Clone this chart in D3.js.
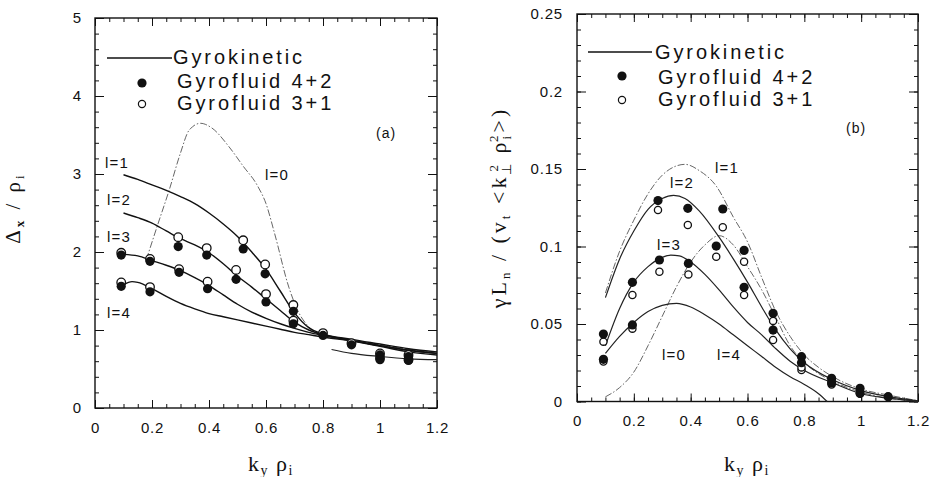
<!DOCTYPE html>
<html><head><meta charset="utf-8">
<script src="https://cdn.jsdelivr.net/npm/d3@7"></script>
<style>body{margin:0;background:#fff}svg{display:block}</style>
</head><body>
<svg id="c" width="931" height="477"></svg>
<script>
// ---------------- DATA ----------------
// Panel (a): Delta_x / rho_i vs ky rho_i (gyrokinetic curves)
const aL1 = [[0.1,2.99],[0.15,2.93],[0.2,2.86],[0.25,2.79],[0.3,2.71],[0.35,2.62],[0.4,2.5],[0.45,2.36],[0.5,2.2],[0.55,2.0],[0.6,1.78],[0.65,1.5],[0.7,1.22],[0.75,1.03],[0.8,0.95],[0.9,0.88],[1.0,0.82],[1.1,0.76],[1.2,0.72]];
const aL2 = [[0.1,2.5],[0.15,2.44],[0.2,2.37],[0.25,2.27],[0.3,2.17],[0.35,2.09],[0.4,1.99],[0.45,1.85],[0.5,1.69],[0.55,1.55],[0.6,1.4],[0.65,1.25],[0.7,1.1],[0.75,1.0],[0.8,0.94],[0.9,0.87],[1.0,0.8],[1.1,0.74],[1.2,0.7]];
const aL3 = [[0.1,1.97],[0.15,1.95],[0.2,1.89],[0.25,1.83],[0.3,1.76],[0.35,1.67],[0.4,1.57],[0.45,1.45],[0.5,1.33],[0.55,1.23],[0.6,1.15],[0.65,1.08],[0.7,1.02],[0.75,0.97],[0.8,0.93],[0.9,0.86],[1.0,0.79],[1.1,0.72],[1.2,0.68]];
const aL4 = [[0.1,1.58],[0.13,1.62],[0.15,1.61],[0.2,1.53],[0.25,1.43],[0.3,1.34],[0.35,1.27],[0.4,1.21],[0.45,1.17],[0.5,1.13],[0.55,1.09],[0.6,1.05],[0.65,1.01],[0.7,0.97],[0.75,0.94],[0.8,0.91],[0.9,0.86],[1.0,0.8],[1.1,0.74],[1.2,0.7]];
const aL0 = [[0.18,1.9],[0.22,2.35],[0.26,2.79],[0.3,3.27],[0.33,3.56],[0.37,3.65],[0.41,3.59],[0.47,3.35],[0.52,3.1],[0.57,2.85],[0.6,2.62],[0.63,2.24],[0.68,1.55],[0.71,1.26],[0.75,1.04],[0.79,0.94],[0.85,0.9],[0.95,0.84],[1.05,0.78],[1.2,0.7]];
const aL0b = [[0.83,0.75],[0.9,0.7],[1.0,0.66],[1.1,0.63],[1.2,0.62]];
// gyrofluid points: [ky, 4+2 (filled), 3+1 (open)]
const aDots = [[0.092,1.96,1.99],[0.092,1.56,1.61],[0.193,1.88,1.91],[0.193,1.49,1.55],[0.292,2.07,2.19],[0.295,1.74,1.78],[0.392,1.96,2.05],[0.395,1.53,1.62],[0.495,1.65,1.77],[0.52,2.04,2.15],[0.597,1.72,1.84],[0.6,1.36,1.46],[0.696,1.24,1.32],[0.696,1.08,1.12],[0.8,0.93,0.96],[0.9,0.81,0.83],[1.0,0.68,0.7],[1.0,0.62,0.64],[1.1,0.66,0.68],[1.1,0.61,0.62]];

// Panel (b): gamma L_n / (v_t <k_perp^2 rho_i^2>) vs ky rho_i
const bL1 = [[0.1,0.07],[0.15,0.097],[0.2,0.117],[0.25,0.134],[0.3,0.146],[0.35,0.152],[0.38,0.153],[0.43,0.149],[0.49,0.139],[0.55,0.119],[0.6,0.103],[0.65,0.08],[0.7,0.058],[0.75,0.042],[0.8,0.03],[0.85,0.022],[0.9,0.016],[1.0,0.008],[1.1,0.004],[1.2,0.0005]];
const bL2 = [[0.1,0.067],[0.15,0.092],[0.2,0.11],[0.25,0.124],[0.3,0.131],[0.34,0.133],[0.38,0.131],[0.43,0.123],[0.5,0.106],[0.55,0.092],[0.6,0.077],[0.65,0.061],[0.7,0.046],[0.75,0.034],[0.8,0.025],[0.9,0.014],[1.0,0.007],[1.1,0.003],[1.2,0.0005]];
const bL3 = [[0.1,0.036],[0.15,0.06],[0.2,0.077],[0.25,0.087],[0.3,0.093],[0.33,0.0945],[0.36,0.094],[0.4,0.09],[0.45,0.082],[0.5,0.072],[0.55,0.061],[0.6,0.051],[0.65,0.043],[0.7,0.034],[0.75,0.026],[0.8,0.02],[0.9,0.012],[1.0,0.005],[1.1,0.002],[1.2,0.0003]];
const bL4 = [[0.1,0.031],[0.15,0.042],[0.2,0.051],[0.25,0.058],[0.3,0.062],[0.35,0.0633],[0.4,0.061],[0.45,0.056],[0.5,0.05],[0.55,0.043],[0.6,0.036],[0.65,0.029],[0.7,0.022],[0.75,0.016],[0.8,0.011],[0.85,0.005],[0.88,0.0]];
const bL0 = [[0.1,0.003],[0.15,0.009],[0.2,0.019],[0.25,0.036],[0.3,0.055],[0.35,0.074],[0.4,0.09],[0.45,0.101],[0.5,0.107],[0.55,0.101],[0.6,0.087],[0.65,0.072],[0.7,0.054],[0.75,0.036],[0.8,0.025],[0.85,0.018],[0.9,0.013],[1.0,0.006],[1.1,0.002],[1.2,0.0003]];
const bDots = [[0.093,0.0435,0.0386],[0.093,0.0272,0.0258],[0.195,0.0769,0.0687],[0.195,0.0494,0.047],[0.285,0.1296,0.1235],[0.29,0.0913,0.0837],[0.39,0.1246,0.1139],[0.392,0.0891,0.082],[0.49,0.1003,0.0934],[0.513,0.1242,0.1124],[0.588,0.0975,0.0902],[0.588,0.0737,0.0687],[0.69,0.0569,0.052],[0.69,0.0461,0.0397],[0.79,0.0289,0.0203],[0.79,0.025,0.022],[0.896,0.015,0.013],[0.896,0.012,0.011],[0.996,0.0085,0.007],[0.996,0.0053,0.005],[1.095,0.0031,0.003]];

const xTicks = [0,0.2,0.4,0.6,0.8,1,1.2];
const xTickLabels = ["0","0.2","0.4","0.6","0.8","1","1.2"];
const aYTicks = [0,1,2,3,4,5];
const bYTicks = [0,0.05,0.1,0.15,0.2,0.25];
const bYTickLabels = ["0","0.05","0.1","0.15","0.2","0.25"];
const legendLabels = ["Gyrokinetic","Gyrofluid 4+2","Gyrofluid 3+1"];

// ---------------- DRAW ----------------
const svg = d3.select("#c");
const SANS = "'Liberation Sans', Arial, sans-serif";
const SERIF = "'Liberation Serif', 'Times New Roman', serif";

function range(a,b,s){const r=[];for(let v=a;v<=b+1e-9;v+=s)r.push(+v.toFixed(4));return r;}

function panel(opt){
  const x = d3.scaleLinear().domain([0,1.2]).range([opt.x0,opt.x1]);
  const y = d3.scaleLinear().domain(opt.yDom).range([opt.y0,opt.y1]);
  const g = svg.append("g");
  const tf = (a)=>a.selectAll("path.domain").remove();
  const xm = range(0,1.2,0.05), ym = range(opt.yDom[0],opt.yDom[1],opt.yMinor);
  g.append("g").attr("transform",`translate(0,${opt.y0})`).call(d3.axisBottom(x).tickValues(xm).tickSize(-4).tickFormat("")).call(tf);
  g.append("g").attr("transform",`translate(0,${opt.y1})`).call(d3.axisTop(x).tickValues(xm).tickSize(-4).tickFormat("")).call(tf);
  g.append("g").attr("transform",`translate(${opt.x0},0)`).call(d3.axisLeft(y).tickValues(ym).tickSize(-4).tickFormat("")).call(tf);
  g.append("g").attr("transform",`translate(${opt.x1},0)`).call(d3.axisRight(y).tickValues(ym).tickSize(-4).tickFormat("")).call(tf);
  g.append("g").attr("transform",`translate(0,${opt.y0})`)
    .call(d3.axisBottom(x).tickValues(xTicks).tickSize(-8).tickPadding(14).tickFormat((d,i)=>xTickLabels[i])).call(tf);
  g.append("g").attr("transform",`translate(0,${opt.y1})`).call(d3.axisTop(x).tickValues(xTicks).tickSize(-8).tickFormat("")).call(tf);
  g.append("g").attr("transform",`translate(${opt.x0},0)`)
    .call(d3.axisLeft(y).tickValues(opt.yTicks).tickSize(-9).tickPadding(opt.yPad).tickFormat((d,i)=>opt.yLabels[i])).call(tf);
  g.append("g").attr("transform",`translate(${opt.x1},0)`).call(d3.axisRight(y).tickValues(opt.yTicks).tickSize(-9).tickFormat("")).call(tf);
  g.selectAll(".tick line").attr("stroke","#111").attr("stroke-width",1);
  g.selectAll(".tick text").attr("font-family",SANS).attr("font-size",15).attr("fill","#111").attr("letter-spacing",0.8);
  g.append("rect").attr("x",opt.x0).attr("y",opt.y1).attr("width",opt.x1-opt.x0).attr("height",opt.y0-opt.y1)
    .attr("fill","none").attr("stroke","#111").attr("stroke-width",1.4);
  const line = d3.line().x(d=>x(d[0])).y(d=>y(d[1])).curve(d3.curveMonotoneX);
  opt.curves.forEach(c=>{
    g.append("path").attr("d",line(c.data)).attr("fill","none")
      .attr("stroke",c.color).attr("stroke-width",c.w).attr("stroke-dasharray",c.dash||null);
  });
  g.selectAll("circle.o").data(opt.dots).join("circle").attr("class","o")
    .attr("cx",d=>x(d[0])).attr("cy",d=>y(d[2])).attr("r",opt.rOpen)
    .attr("fill","#fff").attr("stroke","#111").attr("stroke-width",1.3);
  g.selectAll("circle.f").data(opt.dots).join("circle").attr("class","f")
    .attr("cx",d=>x(d[0])).attr("cy",d=>y(d[1])).attr("r",4.6).attr("fill","#111");
  opt.labels.forEach(l=>{
    g.append("text").attr("x",l[1]).attr("y",l[2]).attr("font-family",SANS).attr("font-size",15)
      .attr("letter-spacing",1.2).attr("fill","#111").text(l[0]);
  });
  g.append("text").attr("x",opt.tag[1]).attr("y",opt.tag[2]).attr("font-family",SANS).attr("font-size",14)
    .attr("letter-spacing",1).attr("fill","#111").text(opt.tag[0]);
  const L = opt.legend;
  g.append("line").attr("x1",L.lx0).attr("x2",L.lx1).attr("y1",L.ly).attr("y2",L.ly).attr("stroke","#111").attr("stroke-width",1.3);
  g.append("circle").attr("cx",L.dx).attr("cy",L.fy).attr("r",4.6).attr("fill","#111");
  g.append("circle").attr("cx",L.dx).attr("cy",L.oy).attr("r",3.6).attr("fill","#fff").attr("stroke","#111").attr("stroke-width",1.2);
  legendLabels.forEach((t,i)=>{
    g.append("text").attr("x",L.tx[i]).attr("y",L.ty[i]).attr("font-family",SANS).attr("font-size",20)
      .attr("letter-spacing",2.9).attr("fill","#111").text(t);
  });
  const xl = g.append("text").attr("x",opt.xlab[0]).attr("y",opt.xlab[1]).attr("text-anchor","middle")
    .attr("font-family",SERIF).attr("font-size",22).attr("letter-spacing",1.5).attr("fill","#111");
  xl.append("tspan").text("k");
  xl.append("tspan").attr("dy",4).attr("font-size",14).text("y");
  xl.append("tspan").attr("dy",-4).text("  ρ");
  xl.append("tspan").attr("dy",4).attr("font-size",14).text("i");
  return {x,y,g};
}

panel({
  x0:95,x1:437,y0:408,y1:18,yDom:[0,5],yMinor:0.2,yTicks:aYTicks,yLabels:aYTicks.map(String),yPad:13,
  curves:[
    {data:aL0,color:"#555",w:0.9,dash:"7,2,1.5,2"},
    {data:aL0b,color:"#222",w:1.2},
    {data:aL1,color:"#111",w:1.4},
    {data:aL2,color:"#111",w:1.4},
    {data:aL3,color:"#111",w:1.4},
    {data:aL4,color:"#111",w:1.4}
  ],
  dots:aDots,rOpen:4.3,
  labels:[["l=1",105,168],["l=2",107,205],["l=3",107,242],["l=4",107,318],["l=0",265,180]],
  tag:["(a)",376,138],
  legend:{lx0:107,lx1:172,ly:58,dx:142,fy:83,oy:104,tx:[173,177,177],ty:[64,88,110]},
  xlab:[271,471]
});

panel({
  x0:577,x1:918,y0:401.5,y1:14,yDom:[0,0.25],yMinor:0.01,yTicks:bYTicks,yLabels:bYTickLabels,yPad:14,
  curves:[
    {data:bL0,color:"#555",w:0.9,dash:"7,2,1.5,2"},
    {data:bL1,color:"#555",w:0.9,dash:"7,2,1.5,2"},
    {data:bL2,color:"#222",w:1.2},
    {data:bL3,color:"#222",w:1.2},
    {data:bL4,color:"#222",w:1.2}
  ],
  dots:bDots,rOpen:3.6,
  labels:[["l=1",715,173],["l=2",670,188],["l=3",657,250],["l=0",662,360],["l=4",717,360]],
  tag:["(b)",846,133],
  legend:{lx0:588,lx1:652,ly:52,dx:622,fy:76,oy:100,tx:[655,658,658],ty:[59,84,106]},
  xlab:[747,471]
});

// Y axis labels, centred on a measured box
function centre(sel, cx, cy){
  const b = sel.node().getBBox();
  const lx = b.x + b.width/2, ly = b.y + b.height/2;
  sel.attr("transform",`translate(${cx + ly},${cy + lx}) rotate(-90)`);
}
const ya = svg.append("text").attr("font-family",SERIF).attr("font-size",21).attr("letter-spacing",3).attr("fill","#111");
ya.append("tspan").text("Δ");
ya.append("tspan").attr("dy",4).attr("font-size",13).attr("font-weight","bold").text("x");
ya.append("tspan").attr("dy",-4).text(" / ρ");
ya.append("tspan").attr("dy",4).attr("font-size",13).text("i");
centre(ya, 26, 208);

const yb = svg.append("text").attr("font-family",SERIF).attr("font-size",22).attr("letter-spacing",3).attr("fill","#111");
yb.append("tspan").text("γL");
yb.append("tspan").attr("dy",4).attr("font-size",13).text("n");
yb.append("tspan").attr("dy",-4).text(" / (v");
yb.append("tspan").attr("dy",4).attr("font-size",13).text("t");
yb.append("tspan").attr("dy",-4).text(" <k");
yb.append("tspan").attr("dy",5).attr("font-size",13).text("⊥");
yb.append("tspan").attr("dx",-11).attr("dy",-13).attr("font-size",13).text("2");
yb.append("tspan").attr("dy",8).text(" ρ");
yb.append("tspan").attr("dy",5).attr("font-size",13).text("i");
yb.append("tspan").attr("dx",-9).attr("dy",-13).attr("font-size",13).text("2");
yb.append("tspan").attr("dy",8).text(">)");
centre(yb, 512, 208);
</script>
</body></html>
